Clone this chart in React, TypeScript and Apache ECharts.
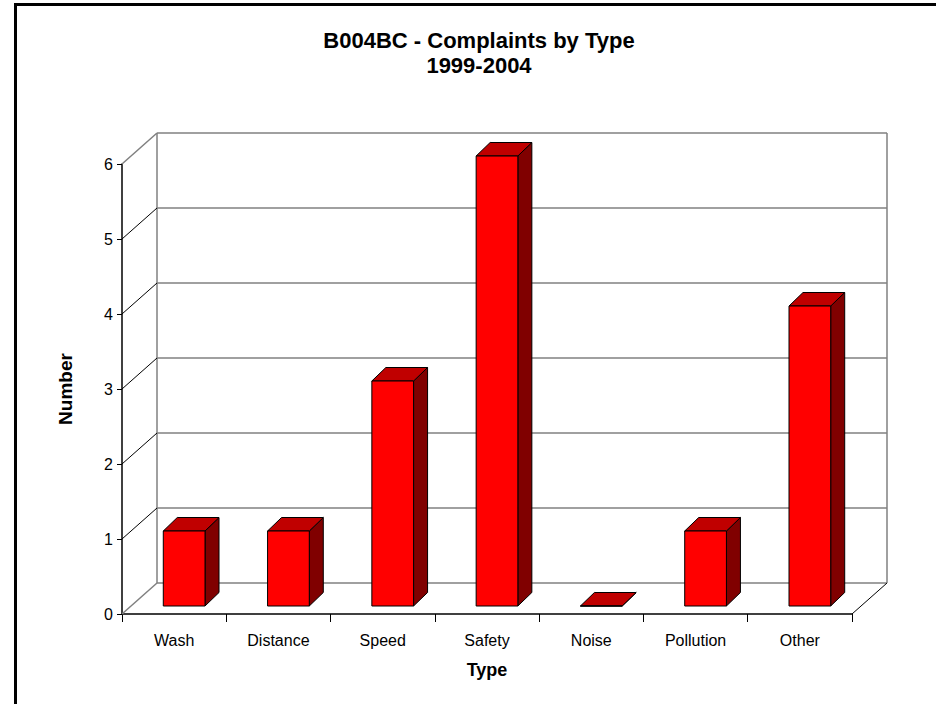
import React, { useEffect, useRef } from "react";
import * as echarts from "echarts";

const CATEGORIES = ["Wash", "Distance", "Speed", "Safety", "Noise", "Pollution", "Other"];
const COUNTS = [1, 1, 3, 6, 0, 1, 4];
const Y_TICKS = [0, 1, 2, 3, 4, 5, 6];
const TITLE = "B004BC - Complaints by Type";
const SUBTITLE = "1999-2004";
const X_NAME = "Type";
const Y_NAME = "Number";

const FONT = "'Liberation Sans', Arial, sans-serif";
const WALL_DX = 35;
const WALL_DY = 31;
const BAR_FRONT_DX = 10;
const BAR_FRONT_DY = 8;
const BAR_BACK_DX = 24;
const BAR_BACK_DY = 21.5;
const BAR_WIDTH_RATIO = 0.4;
const GRAY = "#808080";

export default function App() {
  const ref = useRef<HTMLDivElement>(null);
  useEffect(() => {
    if (!ref.current) return;
    const chart = echarts.init(ref.current, undefined, { renderer: "svg" });
    const yMax = Y_TICKS[Y_TICKS.length - 1];
    const nCat = CATEGORIES.length;

    const wallRender = (params: any, api: any) => {
      const v = api.value(0);
      const band = api.size([1, 0])[0];
      const p = api.coord([0, v]);
      const q = api.coord([nCat - 1, v]);
      const xL = p[0] - band / 2;
      const xR = q[0] + band / 2;
      const Y = p[1];
      const edge = v === 0 || v === yMax;
      const children: any[] = [
        {
          type: "line",
          shape: { x1: xL, y1: Y, x2: xL + WALL_DX, y2: Y - WALL_DY },
          style: { stroke: edge ? GRAY : "#000", lineWidth: edge ? 1.5 : 1 },
        },
        {
          type: "line",
          shape: { x1: xL + WALL_DX, y1: Y - WALL_DY, x2: xR + WALL_DX, y2: Y - WALL_DY },
          style: { stroke: GRAY, lineWidth: 1.5 },
        },
      ];
      if (v === 0) {
        const top = api.coord([0, yMax])[1];
        children.push(
          {
            type: "line",
            shape: { x1: xL + WALL_DX, y1: Y - WALL_DY, x2: xL + WALL_DX, y2: top - WALL_DY },
            style: { stroke: GRAY, lineWidth: 1.5 },
          },
          {
            type: "line",
            shape: { x1: xR + WALL_DX, y1: Y - WALL_DY, x2: xR + WALL_DX, y2: top - WALL_DY },
            style: { stroke: GRAY, lineWidth: 1.5 },
          },
          {
            type: "line",
            shape: { x1: xR, y1: Y, x2: xR + WALL_DX, y2: Y - WALL_DY },
            style: { stroke: "#000", lineWidth: 1 },
          }
        );
      }
      return { type: "group", children };
    };

    const barRender = (params: any, api: any) => {
      const idx = api.value(0);
      const val = api.value(1);
      const band = api.size([1, 0])[0];
      const base = api.coord([idx, 0]);
      const topP = api.coord([idx, val]);
      const w = band * BAR_WIDTH_RATIO;
      const xl = base[0] - w / 2;
      const xr = base[0] + w / 2;
      const y0 = base[1];
      const y1 = topP[1];
      const line = { stroke: "#000", lineWidth: 1, lineJoin: "round" };
      return {
        type: "group",
        children: [
          {
            type: "polygon",
            shape: {
              points: [
                [xr + BAR_FRONT_DX, y1 - BAR_FRONT_DY],
                [xr + BAR_BACK_DX, y1 - BAR_BACK_DY],
                [xr + BAR_BACK_DX, y0 - BAR_BACK_DY],
                [xr + BAR_FRONT_DX, y0 - BAR_FRONT_DY],
              ],
            },
            style: { fill: "#800000", ...line },
          },
          {
            type: "polygon",
            shape: {
              points: [
                [xl + BAR_FRONT_DX, y1 - BAR_FRONT_DY],
                [xr + BAR_FRONT_DX, y1 - BAR_FRONT_DY],
                [xr + BAR_BACK_DX, y1 - BAR_BACK_DY],
                [xl + BAR_BACK_DX, y1 - BAR_BACK_DY],
              ],
            },
            style: { fill: "#C00000", ...line },
          },
          {
            type: "rect",
            shape: {
              x: xl + BAR_FRONT_DX,
              y: y1 - BAR_FRONT_DY,
              width: w,
              height: y0 - y1,
            },
            style: { fill: "#FF0000", ...line },
          },
        ],
      };
    };

    chart.setOption({
      animation: false,
      backgroundColor: "#fff",
      title: {
        text: TITLE + "\n" + SUBTITLE,
        left: 474,
        top: 23,
        textAlign: "center",
        textStyle: {
          fontFamily: FONT,
          fontSize: 22,
          fontWeight: "bold",
          color: "#000",
          lineHeight: 25,
        },
      },
      graphic: [
        {
          type: "polyline",
          shape: { points: [[15.5, 704], [15.5, 4.5], [936, 4.5]] },
          style: { stroke: "#000", lineWidth: 3, fill: "none" },
          silent: true,
        },
      ],
      grid: { left: 122, right: 84, top: 164, bottom: 90, containLabel: false },
      xAxis: {
        type: "category",
        data: CATEGORIES,
        boundaryGap: true,
        name: X_NAME,
        nameLocation: "middle",
        nameGap: 47,
        nameTextStyle: { fontFamily: FONT, fontSize: 18, fontWeight: "bold", color: "#000" },
        axisLine: { show: true, lineStyle: { color: "#000", width: 1.5 } },
        axisTick: { show: true, length: 8, lineStyle: { color: "#000" } },
        axisLabel: { fontFamily: FONT, fontSize: 16, color: "#000", margin: 18 },
        splitLine: { show: false },
      },
      yAxis: {
        type: "value",
        min: 0,
        max: yMax,
        interval: 1,
        name: Y_NAME,
        nameLocation: "middle",
        nameRotate: 90,
        nameGap: 47,
        nameTextStyle: { fontFamily: FONT, fontSize: 19, fontWeight: "bold", color: "#000" },
        axisLine: { show: true, lineStyle: { color: "#000", width: 1.5 } },
        axisTick: { show: true, length: 5, lineStyle: { color: "#000" } },
        axisLabel: { fontFamily: FONT, fontSize: 16, color: "#000", margin: 9 },
        splitLine: { show: false },
      },
      series: [
        {
          type: "custom",
          z: 1,
          silent: true,
          renderItem: wallRender,
          data: Y_TICKS.map((v) => [v]),
          encode: { y: 0 },
        },
        {
          type: "custom",
          z: 3,
          renderItem: barRender,
          data: COUNTS.map((c, i) => [i, c]),
          encode: { x: 0, y: 1 },
        },
      ],
    });
    return () => chart.dispose();
  }, []);
  return (
    <div
      ref={ref}
      style={{ position: "fixed", left: 0, top: 0, width: 936, height: 704 }}
    />
  );
}
